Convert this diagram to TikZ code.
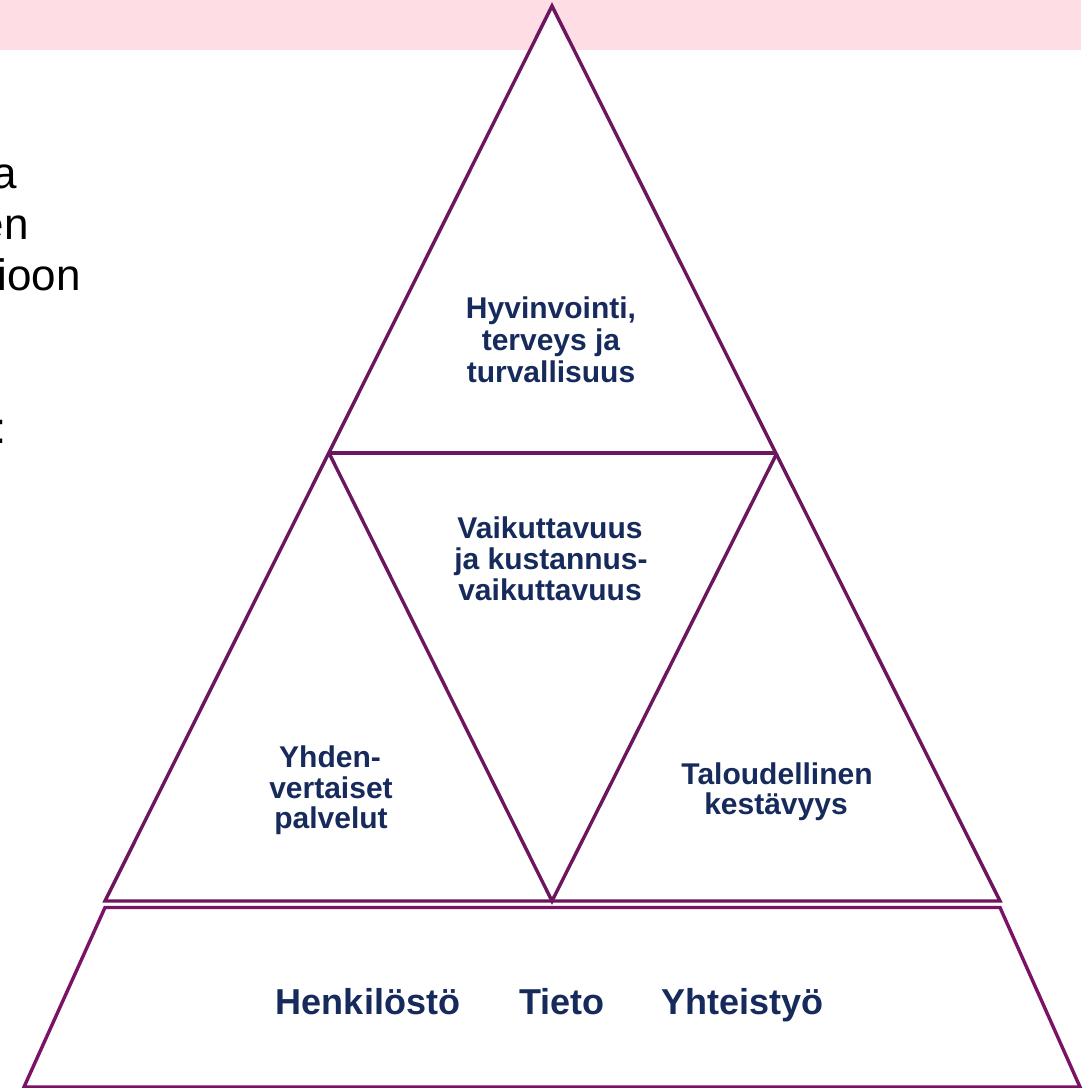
\documentclass[tikz,border=0pt]{standalone}
\usepackage{fontspec}
\setmainfont{Liberation Sans}
\definecolor{band}{RGB}{255,221,228}
\definecolor{plum}{RGB}{108,22,94}
\definecolor{plumb}{RGB}{122,18,102}
\definecolor{navy}{RGB}{22,42,92}
\begin{document}
\begin{tikzpicture}[x=1pt,y=-1pt,
  edge/.style={draw=plum, line width=3.4pt, line join=miter},
  baseedge/.style={draw=plumb, line width=3.4pt, line join=miter},
  lbl/.style={font={\fontsize{30}{31.7}\selectfont\bfseries}, text=navy, anchor=base, inner sep=0pt},
  biglbl/.style={font={\fontsize{36}{40}\selectfont\bfseries}, text=navy, anchor=base, inner sep=0pt},
  side/.style={font={\fontsize{44}{51}\selectfont}, text=black, anchor=base east, inner sep=0pt}]
\useasboundingbox (0,0) rectangle (1092,1087);
\clip (0,0) rectangle (1092,1087);
% pink band
\fill[band] (0,0) rectangle (1081,50);
% cut-off text at the left edge
\node[side] (s1) at (17,188) {a};
\node[side] (s2) at (29,239) {en};
\node[side] (s3) at (81,290) {ioon};
\node[side] (s4) at (7,443) {:};
% pyramid coordinates
\coordinate (A) at (552,6);
\coordinate (L) at (329,453);
\coordinate (R) at (777,453);
\coordinate (BL) at (105,901);
\coordinate (BM) at (552,901);
\coordinate (BR) at (1000,901);
\coordinate (TL) at (105,907.5);
\coordinate (TR) at (1000,907.5);
\coordinate (FR) at (1080,1087);
\coordinate (FL) at (24,1087);
% big triangle
\filldraw[edge, fill=white] (A) -- (BL) -- (BR) -- cycle;
\draw[edge] (L) -- (R);
\draw[edge] (L) -- (BM) -- (R);
% base trapezoid
\draw[baseedge] (TL) -- (TR) -- (FR) -- (FL) -- cycle;
% labels
\node[lbl] (t1) at (551,318) {Hyvinvointi,};
\node[lbl] (t2) at (551,350) {terveys ja};
\node[lbl] (t3) at (551,382) {turvallisuus};
\node[lbl] (m1) at (550,538) {Vaikuttavuus};
\node[lbl] (m2) at (551,569) {ja kustannus-};
\node[lbl] (m3) at (550,600) {vaikuttavuus};
\node[lbl] (l1) at (330,767) {Yhden-};
\node[lbl] (l2) at (331,798) {vertaiset};
\node[lbl] (l3) at (331,828) {palvelut};
\node[lbl] (r1) at (777,784) {Taloudellinen};
\node[lbl] (r2) at (776,814) {kestävyys};
\node[biglbl] (b1) at (368,1014) {Henkilöstö};
\node[biglbl] (b2) at (562,1014) {Tieto};
\node[biglbl] (b3) at (742.5,1014) {Yhteistyö};
\end{tikzpicture}
\end{document}
